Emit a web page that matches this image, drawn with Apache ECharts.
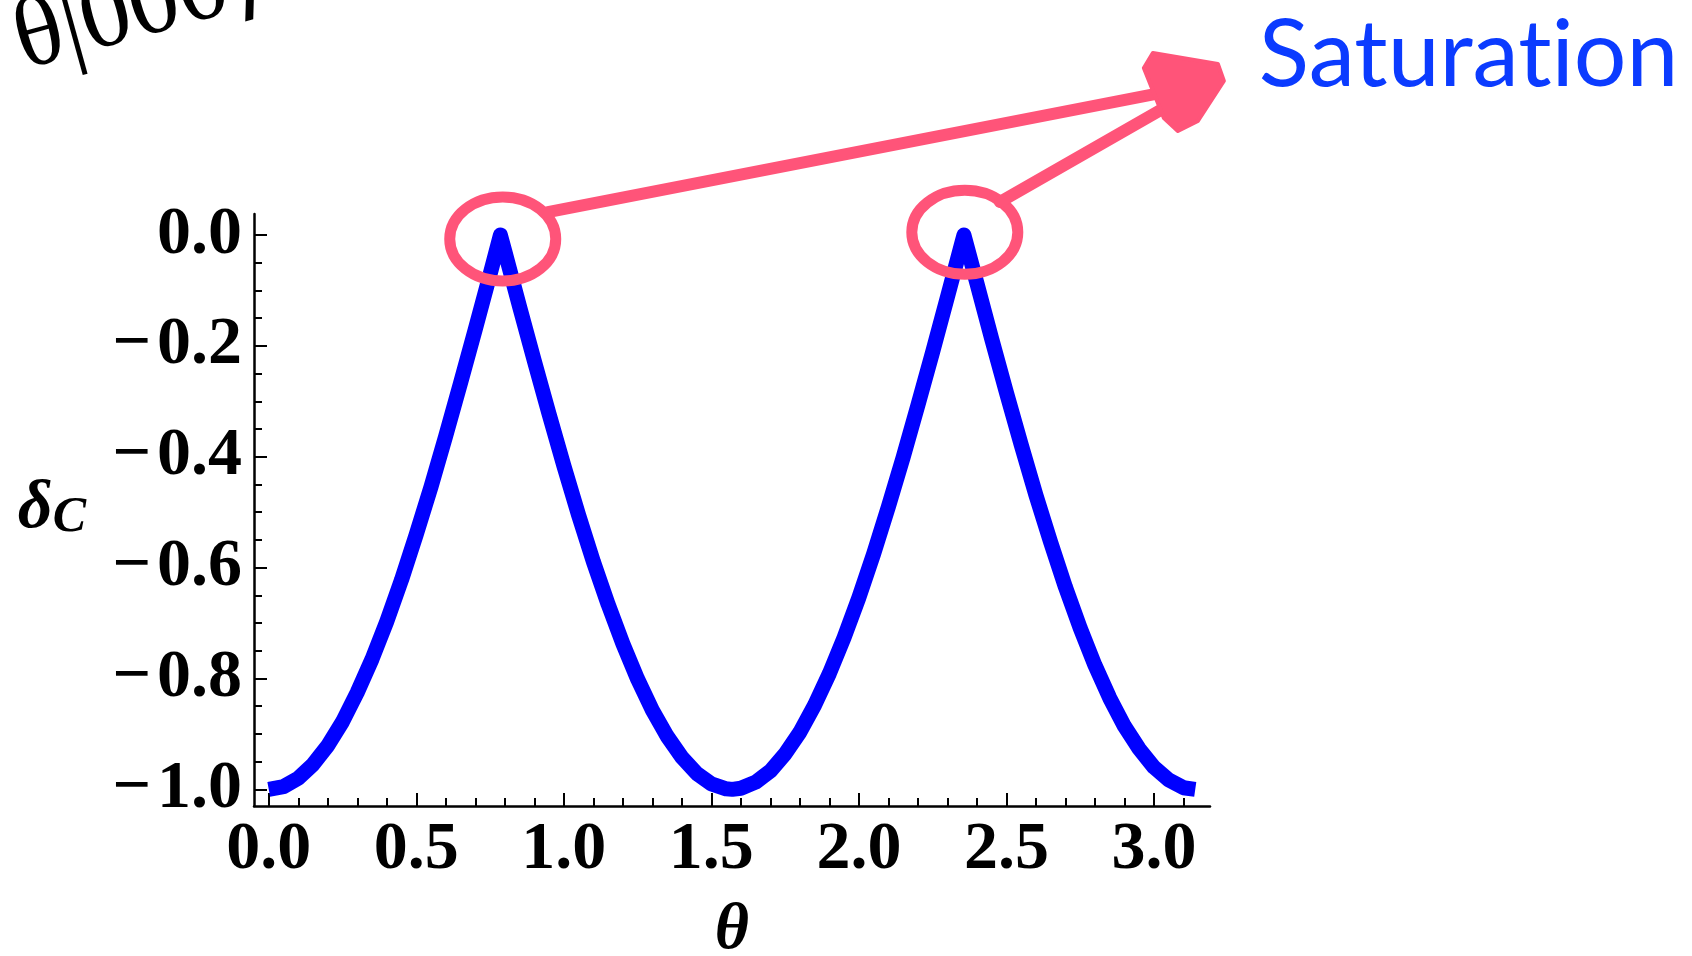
<!DOCTYPE html>
<html>
<head>
<meta charset="utf-8">
<script src="https://cdn.jsdelivr.net/npm/echarts@6/dist/echarts.min.js"></script>
<style>
html,body{margin:0;padding:0;background:#ffffff;}
#chart{width:1692px;height:956px;}
</style>
</head>
<body>
<div id="chart"></div>
<script>
// ---- data ----
const thetaValues = [0.00,0.05,0.10,0.15,0.20,0.25,0.30,0.35,0.40,0.45,0.50,0.55,0.60,0.65,0.70,0.75,0.785,
  0.80,0.85,0.90,0.95,1.00,1.05,1.10,1.15,1.20,1.25,1.30,1.35,1.40,1.45,1.50,1.55,1.571,
  1.60,1.65,1.70,1.75,1.80,1.85,1.90,1.95,2.00,2.05,2.10,2.15,2.20,2.25,2.30,2.35,2.356,
  2.40,2.45,2.50,2.55,2.60,2.65,2.70,2.75,2.80,2.85,2.90,2.95,3.00,3.05,3.10,3.14];
const deltaValues = [-1.000,-0.995,-0.980,-0.955,-0.921,-0.878,-0.825,-0.765,-0.697,-0.622,-0.540,-0.454,-0.362,-0.267,-0.170,-0.071,0.000,
  -0.029,-0.129,-0.227,-0.323,-0.416,-0.505,-0.589,-0.666,-0.737,-0.801,-0.857,-0.904,-0.942,-0.971,-0.990,-0.999,-1.000,
  -0.998,-0.987,-0.967,-0.936,-0.897,-0.848,-0.791,-0.726,-0.654,-0.575,-0.490,-0.401,-0.307,-0.211,-0.112,-0.012,0.000,
  -0.087,-0.187,-0.284,-0.378,-0.469,-0.554,-0.635,-0.709,-0.776,-0.835,-0.886,-0.927,-0.960,-0.983,-0.997,-1.000];

const xMajorTicks = [0.0,0.5,1.0,1.5,2.0,2.5,3.0];
const xMinorTicks = [0.0,0.1,0.2,0.3,0.4,0.5,0.6,0.7,0.8,0.9,1.0,1.1,1.2,1.3,1.4,1.5,1.6,1.7,1.8,1.9,
  2.0,2.1,2.2,2.3,2.4,2.5,2.6,2.7,2.8,2.9,3.0,3.1];
const yMajorTicks = [-1.0,-0.8,-0.6,-0.4,-0.2,0.0];
const yMinorTicks = [-1.0,-0.95,-0.9,-0.85,-0.8,-0.75,-0.7,-0.65,-0.6,-0.55,-0.5,-0.45,-0.4,-0.35,
  -0.3,-0.25,-0.2,-0.15,-0.1,-0.05,0.0];
const xRange = [-0.05, 3.19];
const yRange = [-1.03, 0.038];

const xAxisName = 'θ';
const yAxisSymbol = 'δ';
const yAxisSub = 'C';

// annotation anchors (data coordinates)
const circleCenters = [[0.793, -0.007], [2.359, 0.005]];
const arrowStarts = [[0.946, 0.0415], [2.478, 0.0596]];
const arrowEnds = [[3.037, 0.258], [3.054, 0.235]];
const arrowTip = [3.237, 0.287];
const calloutText = 'Saturation';
const cornerText = 'θ|000⟩';

// ---- styles ----
const PINK = '#ff5479';
const CURVE = '#0000ff';
const LABEL_FONT = 'Liberation Serif';
const LABEL_SIZE = 68;

const chart = echarts.init(document.getElementById('chart'), null, {renderer: 'canvas'});

const seriesData = thetaValues.map((t, i) => [t, deltaValues[i]]);

const fmtX = v => Number(v).toFixed(1);
const fmtY = v => (Math.abs(v) < 1e-9 ? '0.0' : '\u2212\u200A' + Math.abs(v).toFixed(1));

const baseX = {
  type: 'value', min: xRange[0], max: xRange[1], position: 'bottom',
  splitLine: {show: false}
};
const baseY = {
  type: 'value', min: yRange[0], max: yRange[1], position: 'left',
  splitLine: {show: false}
};

chart.setOption({
  animation: false,
  backgroundColor: '#ffffff',
  grid: {left: 254, top: 214, width: 956, height: 592, containLabel: false, outerBoundsMode: 'none'},
  xAxis: [
    Object.assign({}, baseX, {
      name: xAxisName,
      nameLocation: 'middle',
      nameGap: 92,
      nameTextStyle: {fontFamily: LABEL_FONT, fontStyle: 'italic', fontWeight: 'bold', fontSize: 66, color: '#000'},
      axisLine: {show: true, onZero: false, lineStyle: {color: '#000', width: 2.5}},
      axisTick: {show: true, inside: true, length: 13, lineStyle: {color: '#000', width: 2}, customValues: xMajorTicks},
      axisLabel: {show: true, margin: 10, customValues: xMajorTicks, formatter: fmtX,
        fontFamily: LABEL_FONT, fontWeight: 'bold', fontSize: LABEL_SIZE, color: '#000'}
    }),
    Object.assign({}, baseX, {
      axisLine: {show: false, onZero: false},
      axisTick: {show: true, inside: true, length: 8, lineStyle: {color: '#000', width: 2}, customValues: xMinorTicks},
      axisLabel: {show: false}
    })
  ],
  yAxis: [
    Object.assign({}, baseY, {
      name: '{d|' + yAxisSymbol + '}{c|' + yAxisSub + '}',
      nameLocation: 'middle',
      nameRotate: 0,
      nameGap: 168,
      nameTextStyle: {
        color: '#000',
        rich: {
          d: {fontFamily: LABEL_FONT, fontStyle: 'italic', fontWeight: 'bold', fontSize: 68, lineHeight: 66, verticalAlign: 'bottom', color: '#000'},
          c: {fontFamily: LABEL_FONT, fontStyle: 'italic', fontWeight: 'bold', fontSize: 50, lineHeight: 30, verticalAlign: 'bottom', color: '#000'}
        }
      },
      axisLine: {show: true, onZero: false, lineStyle: {color: '#000', width: 2.5}},
      axisTick: {show: true, inside: true, length: 13, lineStyle: {color: '#000', width: 2}, customValues: yMajorTicks},
      axisLabel: {show: true, margin: 12, customValues: yMajorTicks, formatter: fmtY,
        fontFamily: LABEL_FONT, fontWeight: 'bold', fontSize: LABEL_SIZE, color: '#000'}
    }),
    Object.assign({}, baseY, {
      axisLine: {show: false, onZero: false},
      axisTick: {show: true, inside: true, length: 8, lineStyle: {color: '#000', width: 2}, customValues: yMinorTicks},
      axisLabel: {show: false}
    })
  ],
  series: [{
    type: 'line',
    data: seriesData,
    xAxisIndex: 0, yAxisIndex: 0,
    showSymbol: false,
    symbol: 'none',
    smooth: false,
    clip: true,
    lineStyle: {color: CURVE, width: 15, join: 'round', cap: 'butt'}
  }]
});

// ---- annotations, anchored through the grid's scales ----
const px = p => chart.convertToPixel({gridIndex: 0}, p);
const graphics = [];

circleCenters.forEach(c => {
  const p = px(c);
  graphics.push({
    type: 'ellipse', z: 100,
    shape: {cx: p[0], cy: p[1], rx: 53, ry: 42},
    style: {fill: 'none', stroke: PINK, lineWidth: 11}
  });
});
arrowStarts.forEach((s, i) => {
  const a = px(s), b = px(arrowEnds[i]);
  graphics.push({
    type: 'line', z: 100,
    shape: {x1: a[0], y1: a[1], x2: b[0], y2: b[1]},
    style: {stroke: PINK, lineWidth: 12, lineCap: 'round'}
  });
});
const tip = px(arrowTip);
const headOffsets = [[-71,-23],[-6,-12],[0,5],[-26,45],[-46,55],[-60,42],[-80,-8]];
graphics.push({
  type: 'polygon', z: 101,
  shape: {points: headOffsets.map(o => [tip[0] + o[0], tip[1] + o[1]])},
  style: {fill: PINK, stroke: PINK, lineWidth: 4, lineJoin: 'round'}
});
// zero-width non-joiner keeps the "ti" letters apart (no ligature)
const calloutShown = calloutText.replace('ti', 't\u200Ci');
graphics.push({
  type: 'text', z: 102, x: tip[0] + 35, y: tip[1] + 27,
  style: {text: calloutShown, fontFamily: 'Lato', fontSize: 93, fill: '#0b3bff', align: 'left', verticalAlign: 'bottom'}
});
graphics.push({
  type: 'text', z: 102, x: 30, y: 92, rotation: 0.27,
  style: {text: cornerText, fontFamily: 'Liberation Serif', fontSize: 100, fill: '#000', align: 'left', verticalAlign: 'bottom'}
});

chart.setOption({graphic: graphics});
</script>
</body>
</html>
